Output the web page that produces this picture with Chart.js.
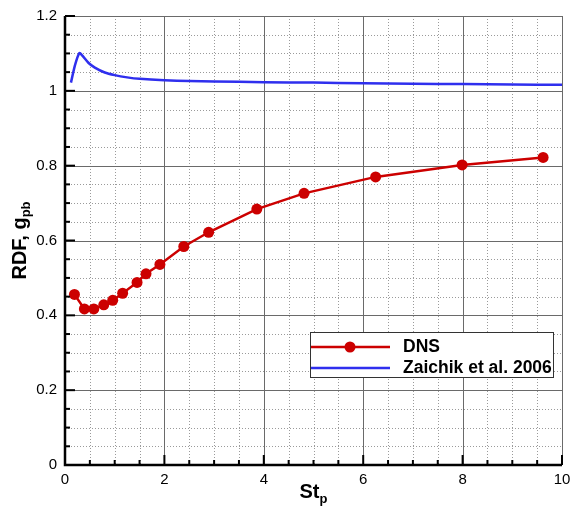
<!DOCTYPE html>
<html>
<head>
<meta charset="utf-8">
<script src="https://cdn.jsdelivr.net/npm/chart.js@4"></script>
<style>
  body { margin: 0; background: #fff; }
</style>
</head>
<body>
<canvas id="rdfChart" width="574" height="511"></canvas>
<script>
// DNS data (St_p, g_pb)
const dnsSt  = [0.19, 0.39, 0.58, 0.78, 0.96, 1.16, 1.45, 1.63, 1.91, 2.39, 2.89, 3.86, 4.81, 6.25, 7.99, 9.62];
const dnsRdf = [0.456, 0.417, 0.417, 0.428, 0.440, 0.459, 0.488, 0.511, 0.536, 0.584, 0.622, 0.684, 0.726, 0.770, 0.802, 0.822];

// Zaichik et al. 2006 curve
const zaiSt  = [0.12, 0.2, 0.29, 0.35, 0.47, 0.6, 0.8, 1.0, 1.25, 1.5, 2.0, 2.5, 3.0, 4.0, 5.0, 6.0, 7.0, 8.0, 9.0, 10.0];
const zaiRdf = [1.022, 1.068, 1.101, 1.094, 1.075, 1.062, 1.049, 1.042, 1.036, 1.032, 1.028, 1.026, 1.025, 1.023, 1.022, 1.020, 1.019, 1.018, 1.017, 1.016];

// axis ticks
const xMajor = [0, 2, 4, 6, 8, 10];
const yMajor = [0, 0.2, 0.4, 0.6, 0.8, 1.0, 1.2];
const yLabels = ['0', '0.2', '0.4', '0.6', '0.8', '1', '1.2'];
const xMinorStep = 0.5;
const yMinorStep = 0.05;

const redCol = '#cc0000';
const blueCol = '#2f2fee';

function toXY(xs, ys) {
    return xs.map((x, i) => ({ x: x, y: ys[i] }));
}

// grid, axes frame and ticks
const gridPlugin = {
    id: 'gridPlugin',
    beforeDatasetsDraw(chart) {
        const ctx = chart.ctx;
        const a = chart.chartArea;
        const xs = chart.scales.x, ys = chart.scales.y;
        ctx.save();
        // minor dotted
        ctx.strokeStyle = '#9a9a9a';
        ctx.lineWidth = 1;
        ctx.setLineDash([1, 2]);
        for (let v = 0; v <= 10.001; v += xMinorStep) {
            if (xMajor.some(m => Math.abs(m - v) < 1e-6)) continue;
            const px = Math.round(xs.getPixelForValue(v)) + 0.5;
            ctx.beginPath(); ctx.moveTo(px, a.top); ctx.lineTo(px, a.bottom); ctx.stroke();
        }
        for (let v = 0; v <= 1.2001; v += yMinorStep) {
            if (yMajor.some(m => Math.abs(m - v) < 1e-6)) continue;
            const py = Math.round(ys.getPixelForValue(v)) + 0.5;
            ctx.beginPath(); ctx.moveTo(a.left, py); ctx.lineTo(a.right, py); ctx.stroke();
        }
        // major solid
        ctx.setLineDash([]);
        ctx.strokeStyle = '#6a6a6a';
        xMajor.forEach(v => {
            const px = Math.round(xs.getPixelForValue(v)) + 0.5;
            ctx.beginPath(); ctx.moveTo(px, a.top); ctx.lineTo(px, a.bottom); ctx.stroke();
        });
        yMajor.forEach(v => {
            const py = Math.round(ys.getPixelForValue(v)) + 0.5;
            ctx.beginPath(); ctx.moveTo(a.left, py); ctx.lineTo(a.right, py); ctx.stroke();
        });
        ctx.restore();
    },
    afterDatasetsDraw(chart) {
        const ctx = chart.ctx;
        const a = chart.chartArea;
        const xs = chart.scales.x, ys = chart.scales.y;
        ctx.save();
        ctx.strokeStyle = '#000';
        // ticks inward
        ctx.lineWidth = 2;
        for (let v = 0; v <= 10.001; v += xMinorStep) {
            const major = xMajor.some(m => Math.abs(m - v) < 1e-6);
            const px = xs.getPixelForValue(v);
            ctx.beginPath(); ctx.moveTo(px, a.bottom); ctx.lineTo(px, a.bottom - (major ? 10 : 5)); ctx.stroke();
        }
        for (let v = 0; v <= 1.2001; v += yMinorStep) {
            const major = yMajor.some(m => Math.abs(m - v) < 1e-6);
            const py = ys.getPixelForValue(v);
            ctx.beginPath(); ctx.moveTo(a.left, py); ctx.lineTo(a.left + (major ? 10 : 5), py); ctx.stroke();
        }
        // left and bottom axis lines
        ctx.lineWidth = 2.5;
        ctx.beginPath();
        ctx.moveTo(a.left, a.top);
        ctx.lineTo(a.left, a.bottom);
        ctx.lineTo(a.right, a.bottom);
        ctx.stroke();
        ctx.restore();
    },
    afterDraw(chart) {
        const ctx = chart.ctx;
        const a = chart.chartArea;
        ctx.save();
        ctx.fillStyle = '#000';
        // x title St_p
        ctx.font = 'bold 20px "Liberation Sans", Arial, sans-serif';
        ctx.textBaseline = 'alphabetic';
        const cx = (a.left + a.right) / 2;
        const wSt = ctx.measureText('St').width;
        ctx.font = 'bold 13px "Liberation Sans", Arial, sans-serif';
        const wP = ctx.measureText('p').width;
        let x0 = cx - (wSt + wP) / 2;
        ctx.font = 'bold 20px "Liberation Sans", Arial, sans-serif';
        ctx.fillText('St', x0, 498);
        ctx.font = 'bold 13px "Liberation Sans", Arial, sans-serif';
        ctx.fillText('p', x0 + wSt, 503);

        // y title RDF, g_pb
        ctx.translate(26, (a.top + a.bottom) / 2);
        ctx.rotate(-Math.PI / 2);
        ctx.font = 'bold 20px "Liberation Sans", Arial, sans-serif';
        const wMain = ctx.measureText('RDF, g').width;
        ctx.font = 'bold 13px "Liberation Sans", Arial, sans-serif';
        const wSub = ctx.measureText('pb').width;
        const sx = -(wMain + wSub) / 2;
        ctx.font = 'bold 20px "Liberation Sans", Arial, sans-serif';
        ctx.fillText('RDF, g', sx, 0);
        ctx.font = 'bold 13px "Liberation Sans", Arial, sans-serif';
        ctx.fillText('pb', sx + wMain, 4);
        ctx.restore();

        // legend box
        ctx.save();
        const lx = 310, ly = 332, lw = 243, lh = 45;
        ctx.fillStyle = '#fff';
        ctx.fillRect(lx, ly, lw, lh);
        ctx.strokeStyle = '#333';
        ctx.lineWidth = 1;
        ctx.strokeRect(lx + 0.5, ly + 0.5, lw, lh);
        ctx.lineWidth = 2.5;
        ctx.strokeStyle = redCol;
        ctx.beginPath(); ctx.moveTo(lx + 1, 347); ctx.lineTo(lx + 80, 347); ctx.stroke();
        ctx.fillStyle = redCol;
        ctx.beginPath(); ctx.arc(lx + 40, 347, 5.5, 0, Math.PI * 2); ctx.fill();
        ctx.strokeStyle = blueCol;
        ctx.lineWidth = 2.5;
        ctx.beginPath(); ctx.moveTo(lx + 1, 368); ctx.lineTo(lx + 80, 368); ctx.stroke();
        ctx.fillStyle = '#000';
        ctx.font = 'bold 17.5px "Liberation Sans", Arial, sans-serif';
        ctx.textBaseline = 'middle';
        ctx.fillText('DNS', 403, 347);
        ctx.fillText('Zaichik et al. 2006', 403, 368);
        ctx.restore();
    }
};

const chart = new Chart(document.getElementById('rdfChart'), {
    type: 'scatter',
    data: {
        datasets: [
            {
                label: 'Zaichik et al. 2006',
                data: toXY(zaiSt, zaiRdf),
                showLine: true,
                borderColor: blueCol,
                borderWidth: 2.5,
                pointRadius: 0,
                tension: 0.2
            },
            {
                label: 'DNS',
                data: toXY(dnsSt, dnsRdf),
                showLine: true,
                borderColor: redCol,
                backgroundColor: redCol,
                borderWidth: 2.5,
                pointRadius: 5.5,
                pointBorderWidth: 0,
                tension: 0
            }
        ]
    },
    options: {
        responsive: false,
        animation: false,
        devicePixelRatio: 1,
        layout: { padding: { top: 16, right: 12, left: 0, bottom: 0 } },
        plugins: {
            legend: { display: false },
            tooltip: { enabled: false }
        },
        scales: {
            x: {
                type: 'linear',
                min: 0, max: 10,
                afterBuildTicks: s => { s.ticks = xMajor.map(v => ({ value: v })); },
                afterFit: s => { s.height = 46; s.paddingLeft = 0; s.paddingRight = 0; },
                grid: { display: false, drawTicks: false },
                border: { display: false },
                ticks: { color: '#000', padding: 6, font: { size: 15, family: '"Liberation Sans", Arial, sans-serif' } }
            },
            y: {
                type: 'linear',
                min: 0, max: 1.2,
                afterBuildTicks: s => { s.ticks = yMajor.map(v => ({ value: v })); },
                afterFit: s => { s.width = 65; s.paddingTop = 0; s.paddingBottom = 0; },
                grid: { display: false, drawTicks: false },
                border: { display: false },
                ticks: {
                    color: '#000', padding: 8,
                    font: { size: 15, family: '"Liberation Sans", Arial, sans-serif' },
                    callback: (v, i) => yLabels[i]
                }
            }
        }
    },
    plugins: [gridPlugin]
});
</script>
</body>
</html>
